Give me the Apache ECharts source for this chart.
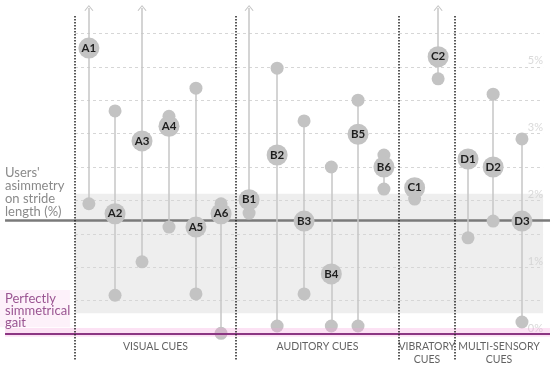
<!DOCTYPE html>
<html>
<head>
<meta charset="utf-8">
<script src="https://cdn.jsdelivr.net/npm/echarts@6/dist/echarts.min.js"></script>
<style>
html,body{margin:0;padding:0;background:#fff;}
#main{width:550px;height:370px;}
</style>
</head>
<body>
<div id="main"></div>
<script>
// studies, their x slot and values (% asymmetry)
var studies = ['A1','A2','A3','A4','A5','A6','B1','B2','B3','B4','B5','B6','C1','C2','D1','D2','D3'];
var xPos = [0.52,1.5,2.51,3.52,4.53,5.47, 6.52,7.57,8.58,9.6,10.6,11.57, 12.72,13.6, 14.72,15.66,16.74];
var labelVals = [4.28,1.80,2.89,3.11,1.60,1.80, 2.01,2.68,1.69,0.90,2.99,2.50, 2.19,4.15, 2.62,2.50,1.69];
var pointVals = [
	[1.95],[3.34,0.58],[1.08],[3.26,1.60],[3.68,0.60],[1.95,0.01],
	[1.81],[3.98,0.12],[3.19,0.60],[2.50,0.12],[3.50,0.12],[2.68,2.17],
	[2.02],[3.82],
	[1.44],[3.59,1.69],[2.92,0.18]
];
var arrowUp = [1,0,1,0,0,0, 1,0,0,0,0,0, 0,1, 0,0,0];
var arrowTop = 4.88;

var groups = ['VISUAL CUES','AUDITORY CUES','VIBRATORY\nCUES','MULTI-SENSORY\nCUES'];
var groupBounds = [0, 6.03, 12.13, 14.23, 17.53];

var gridVals = [0.5,1,1.5,2,2.5,3,3.5,4,4.5];
var tickVals = [0,1,2,3,4];
var tickLabels = ['0%','1%','2%','3%','5%'];
var meanVal = 1.71;      // users' asymmetry
var bandVals = [0.31, 2.10];

var xMin = -2.809, xMax = 17.79;
var leftEdge = -2.62;

var myChart = echarts.init(document.getElementById('main'));

var small = [], big = [], stems = [];
for (var i = 0; i < studies.length; i++) {
	var vals = pointVals[i].concat([labelVals[i]]);
	for (var j = 0; j < pointVals[i].length; j++) small.push([xPos[i], pointVals[i][j]]);
	big.push({value:[xPos[i], labelVals[i]], name:studies[i]});
	var lo = Math.min.apply(null, vals), hi = Math.max.apply(null, vals);
	if (arrowUp[i]) {
		stems.push([{coord:[xPos[i], lo], symbol:'none'},
		            {coord:[xPos[i], arrowTop], symbol:'path://M0,7 L5,0 L10,7 L9,7.6 L5,1.8 L1,7.6 Z', symbolSize:[9,6]}]);
	} else {
		stems.push([{coord:[xPos[i], lo]},{coord:[xPos[i], hi]}]);
	}
}

var gridLines = gridVals.map(function(v){ return [{coord:[0, v]},{coord:[groupBounds[4], v]}]; });
var seps = groupBounds.slice(0,4).map(function(b){
	return [{coord:[b, 4.76], lineStyle:{color:'#222', type:[1.5,1.5], width:1.5}},{coord:[b, -0.39]}];
});
var groupLabels = groups.map(function(g, i){
	return {value:[(groupBounds[i] + groupBounds[i+1]) / 2, -0.17], name:g};
});
var tickData = tickVals.map(function(v, i){ return {value:[groupBounds[4], v], name:tickLabels[i]}; });

var font = 'Lato, "Open Sans", sans-serif';

option = {
	animation: false,
	grid: {left:0, right:0, top:0, bottom:2.6},
	xAxis: {type:'value', min:xMin, max:xMax, show:false},
	yAxis: {type:'value', min:-0.5, max:5, show:false},
	graphic: [
		{type:'text', left:5, top:166, z:10, style:{text:"Users'\nasimmetry\non stride\nlength (%)", fill:'#8a8a8a', font:'13px ' + font, lineHeight:13}},
		{type:'text', left:5, top:292, z:10, style:{text:'Perfectly\nsimmetrical\ngait', fill:'#9a5592', font:'13px ' + font, lineHeight:12}}
	],
	series: [
		{
			type:'line', data:[], z:1, silent:true,
			markArea: {silent:true, z:1, label:{show:false},
				data:[
					[{coord:[0, bandVals[1]], itemStyle:{color:'#eeeeee'}},{coord:[groupBounds[4], bandVals[0]]}],
					[{coord:[xMin, 0.66], itemStyle:{color:'#fdf1fa'}},{coord:[-0.19, 0.1]}]
				]},
			markLine: {silent:true, z:1, symbol:['none','none'], label:{show:false},
				lineStyle:{color:'#d6d6d6', type:[3,3], width:1},
				data: gridLines.concat([
					[{coord:[leftEdge, meanVal], lineStyle:{color:'#7a7a7a', type:'solid', width:2.5}},{coord:[xMax, meanVal]}]
				])}
		},
		{
			type:'line', data:[], z:2, silent:true,
			markLine: {silent:true, z:2, symbol:['none','none'], label:{show:false},
				lineStyle:{color:'#c6c6c6', type:'solid', width:1.5},
				itemStyle:{color:'#b0b0b0'},
				data: stems}
		},
		{
			type:'scatter', data:small, z:3, silent:true,
			symbolSize:13, itemStyle:{color:'#c3c3c3', opacity:1}
		},
		{
			type:'scatter', data:big, z:4, silent:true,
			symbolSize:21, itemStyle:{color:'#c3c3c3', opacity:1},
			label:{show:true, position:'inside', formatter:'{b}', color:'#1e1e1e', fontFamily:font, fontWeight:'bold', fontSize:11.5}
		},
		{
			type:'line', data:[], z:6, silent:true,
			markArea: {silent:true, z:6, label:{show:false},
				data:[[{coord:[leftEdge, 0.09], itemStyle:{color:'rgba(245,160,220,0.3)'}},{coord:[xMax, -0.04]}]]},
			markLine: {silent:true, z:7, symbol:['none','none'], label:{show:false},
				data: [
					[{coord:[leftEdge, 0], lineStyle:{color:'#8c3683', type:'solid', width:2.2}},{coord:[xMax, 0]}]
				].concat(seps)}
		},
		{
			type:'scatter', data:tickData, z:5, silent:true, symbolSize:0,
			label:{show:true, position:'left', distance:0, offset:[0,-6], formatter:'{b}', color:'#cfcfcf', fontFamily:font, fontSize:11}
		},
		{
			type:'scatter', data:groupLabels, z:5, silent:true, symbolSize:0,
			label:{show:true, position:'inside', formatter:'{b}', color:'#3a3a3a', fontFamily:font, fontSize:10.5, lineHeight:13, verticalAlign:'top', align:'center', offset:[0,-5]}
		}
	]
};
myChart.setOption(option);
</script>
</body>
</html>
